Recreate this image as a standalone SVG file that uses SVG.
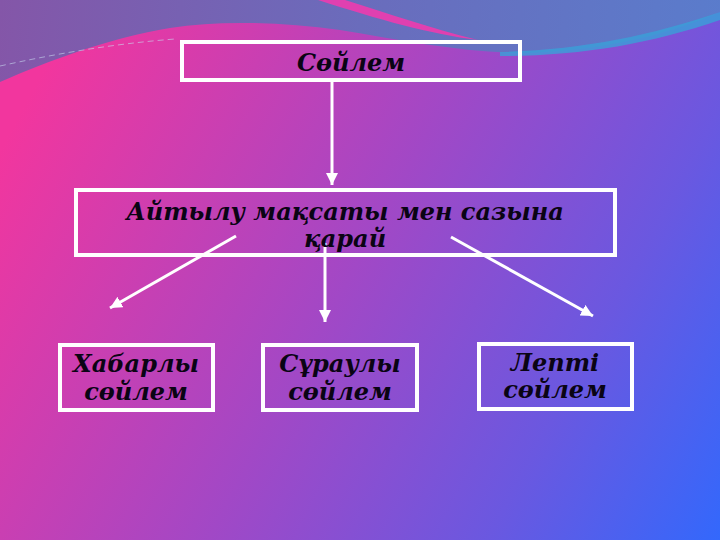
<svg xmlns="http://www.w3.org/2000/svg" width="720" height="540" viewBox="0 0 720 540">
<defs>
<linearGradient id="bg" gradientUnits="userSpaceOnUse" x1="0" y1="150" x2="720" y2="540">
<stop offset="0" stop-color="#f2369e"/>
<stop offset="0.45" stop-color="#a148c6"/>
<stop offset="0.75" stop-color="#6a58e0"/>
<stop offset="1" stop-color="#3368fc"/>
</linearGradient>
<linearGradient id="top" gradientUnits="userSpaceOnUse" x1="0" y1="0" x2="720" y2="60">
<stop offset="0" stop-color="#8456a8"/>
<stop offset="0.5" stop-color="#6a6cbc"/>
<stop offset="1" stop-color="#5a7ccc"/>
</linearGradient>
<marker id="ah" markerUnits="userSpaceOnUse" markerWidth="14" markerHeight="12" refX="12" refY="6" orient="auto">
<path d="M0,0 L12,6 L0,12 Z" fill="#ffffff"/>
</marker>
<style>
.box{fill:none;stroke:#ffffff;stroke-width:4}
.t{font-family:"DejaVu Serif","Liberation Serif",serif;font-weight:bold;font-style:italic;font-size:24px;fill:#0a0414;text-anchor:middle}
.c{stroke:#ffffff;stroke-width:3;fill:none;marker-end:url(#ah)}
</style>
</defs>
<rect width="720" height="540" fill="url(#bg)"/>
<path d="M0,0 H720 V12 C660,38 590,52 520,53 C460,52 400,40 340,30 C280,22 220,20 170,28 C110,38 50,60 0,82 Z" fill="url(#top)"/>
<path d="M500,52 C580,50 650,36 720,12 L720,20 C650,44 580,56 500,56 Z" fill="#3aa0d8" opacity="0.8"/>
<path d="M318,0 L345,0 C390,14 430,28 478,40 C430,34 380,20 318,0 Z" fill="#e040b0"/>
<path d="M0,66 C50,55 110,44 175,39" fill="none" stroke="#c8d8f0" stroke-width="1" stroke-dasharray="6,4" opacity="0.6"/>
<g id="connectors">
<line class="c" x1="332" y1="82" x2="332" y2="185"/>
<line class="c" x1="236" y1="236" x2="110" y2="308"/>
<line class="c" x1="325" y1="243" x2="325" y2="322"/>
<line class="c" x1="451" y1="237" x2="593" y2="316"/>
</g>
<g id="n-soilem">
<rect class="box" x="182" y="42" width="338" height="38"/>
<text class="t" x="351" y="71">Сөйлем</text>
</g>
<g id="n-aitylu">
<rect class="box" x="76" y="190" width="539" height="65"/>
<text class="t" x="345" y="220">Айтылу мақсаты мен сазына</text>
<text class="t" x="345" y="247">қарай</text>
</g>
<g id="n-habarly">
<rect class="box" x="60" y="345" width="153" height="65"/>
<text class="t" x="136" y="372">Хабарлы</text>
<text class="t" x="136" y="400">сөйлем</text>
</g>
<g id="n-suraly">
<rect class="box" x="263" y="345" width="154" height="65"/>
<text class="t" x="340" y="372">Сұраулы</text>
<text class="t" x="340" y="400">сөйлем</text>
</g>
<g id="n-lepti">
<rect class="box" x="479" y="344" width="153" height="65"/>
<text class="t" x="555" y="371">Лепті</text>
<text class="t" x="555" y="398">сөйлем</text>
</g>
</svg>
